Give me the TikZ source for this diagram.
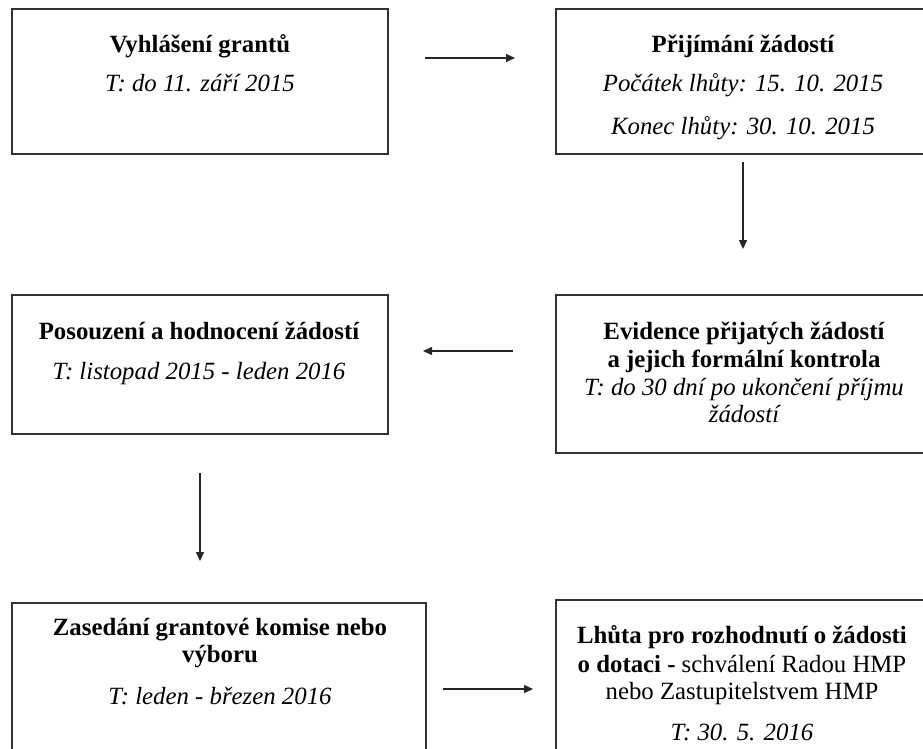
\documentclass[tikz,border=0pt]{standalone}
\usepackage{fontspec}
\setmainfont{Liberation Serif}
\usetikzlibrary{arrows.meta}
\begin{document}
\begin{tikzpicture}[x=1pt,y=-1pt,
  box/.style={draw=black!80,line width=1.6pt},
  ln/.style={anchor=base,inner sep=0pt,font=\fontsize{24.8}{27.5}\selectfont},
  bl/.style={ln,font=\fontsize{24.8}{27.5}\selectfont\bfseries},
  il/.style={ln,font=\fontsize{24.8}{27.5}\selectfont\itshape},
  arr/.style={draw=black!85,line width=1.4pt,-{Triangle[length=9pt,width=8pt]}}]
\clip (0,0) rectangle (923,749);
\fill[white] (0,0) rectangle (923,749);
% boxes
\draw[box] (12,9) rectangle (388,154) node[pos=0.5,inner sep=0] (b1) {};
\draw[box] (556,9) rectangle (935,154) node[pos=0.5,inner sep=0] (b2) {};
\draw[box] (12,295) rectangle (388,434) node[pos=0.5,inner sep=0] (b3) {};
\draw[box] (556,295) rectangle (935,453) node[pos=0.5,inner sep=0] (b4) {};
\draw[box] (12,603) rectangle (426,770) node[pos=0.5,inner sep=0] (b5) {};
\draw[box] (556,600) rectangle (935,770) node[pos=0.5,inner sep=0] (b6) {};
% texts
\node[bl] (t1a) at (200,53) {Vyhlášení grantů};
\node[il] (t1b) at (200,92) {T: do 11. září 2015};
\node[bl] (t2a) at (743,53) {Přijímání žádostí};
\node[il] (t2b) at (743,92) {Počátek lhůty: 15. 10. 2015};
\node[il] (t2c) at (743,135) {Konec lhůty: 30. 10. 2015};
\node[bl] (t3a) at (199,339) {Posouzení a hodnocení žádostí};
\node[il] (t3b) at (199,379) {T: listopad 2015 - leden 2016};
\node[bl] (t4a) at (744,339) {Evidence přijatých žádostí};
\node[bl] (t4b) at (744,367) {a jejich formální kontrola};
\node[il] (t4c) at (744,395) {T: do 30 dní po ukončení příjmu};
\node[il] (t4d) at (744,422) {žádostí};
\node[bl] (t5a) at (220,635) {Zasedání grantové komise nebo};
\node[bl] (t5b) at (220,662) {výboru};
\node[il] (t5c) at (220,704) {T: leden - březen 2016};
\node[bl] (t6a) at (742,643) {Lhůta pro rozhodnutí o žádosti};
\node[ln] (t6b) at (742,672) {\textbf{o dotaci -} schválení Radou HMP};
\node[ln] (t6c) at (742,699) {nebo Zastupitelstvem HMP};
\node[il] (t6d) at (742,740) {T: 30. 5. 2016};
% arrow end points
\coordinate (a1s) at (425,58);  \coordinate (a1e) at (515,58);
\coordinate (a2s) at (743,162); \coordinate (a2e) at (743,249);
\coordinate (a3s) at (513,351); \coordinate (a3e) at (423,351);
\coordinate (a4s) at (200,473); \coordinate (a4e) at (200,561);
\coordinate (a5s) at (443,689); \coordinate (a5e) at (533,689);
\draw[arr] (a1s) -- (a1e);
\draw[arr] (a2s) -- (a2e);
\draw[arr] (a3s) -- (a3e);
\draw[arr] (a4s) -- (a4e);
\draw[arr] (a5s) -- (a5e);
\end{tikzpicture}
\end{document}
